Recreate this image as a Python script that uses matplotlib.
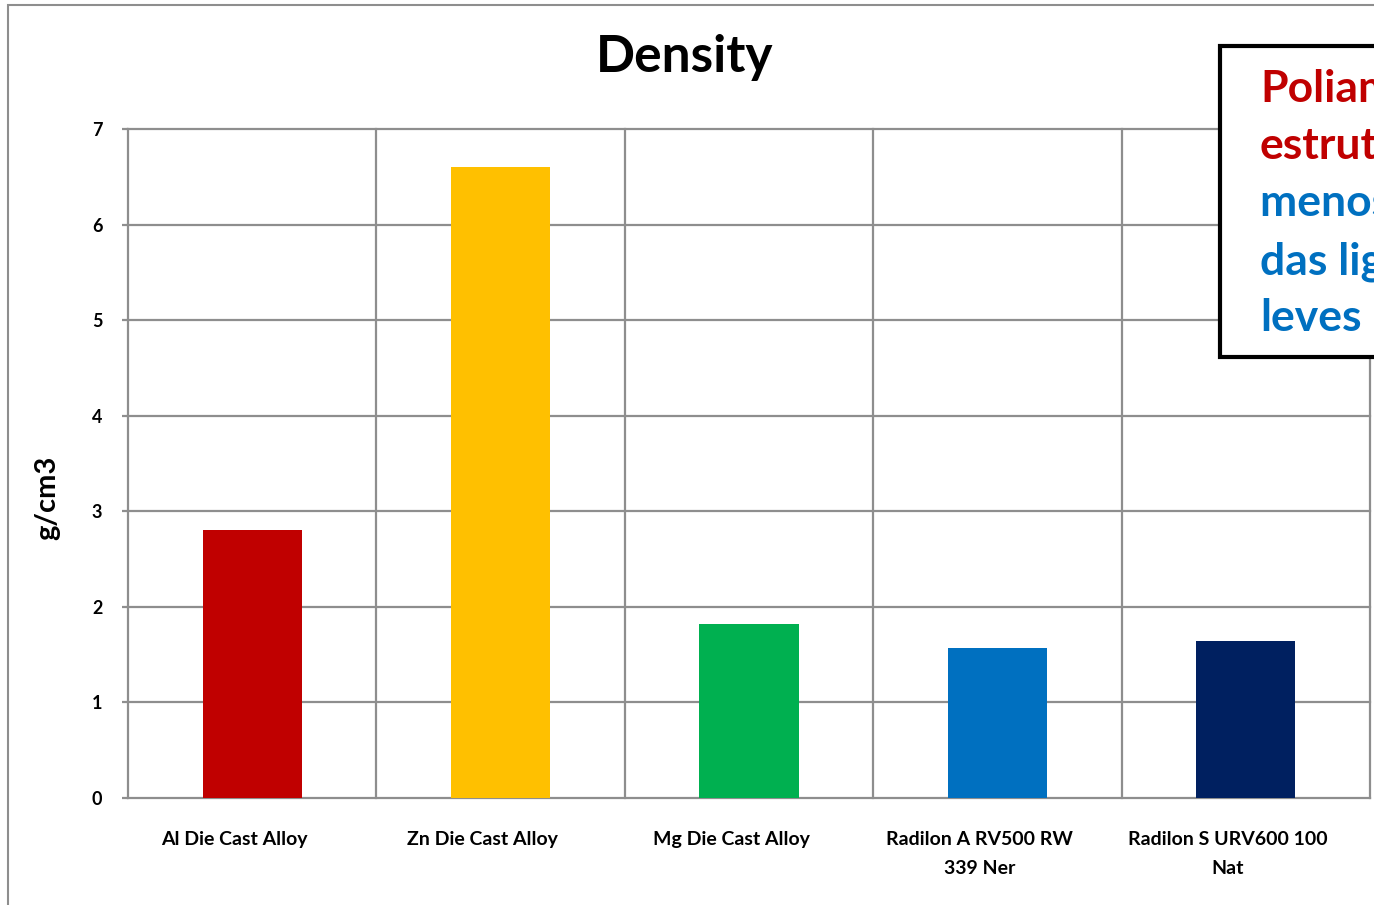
import matplotlib
matplotlib.use("Agg")
import matplotlib.pyplot as plt
from matplotlib.patches import Rectangle
from matplotlib.transforms import ScaledTranslation

plt.rcParams["font.family"] = ["Lato", "DejaVu Sans"]
plt.rcParams["font.weight"] = "bold"

# densidades (g/cm3)
materials = [
    "Al Die Cast Alloy",
    "Zn Die Cast Alloy",
    "Mg Die Cast Alloy",
    "Radilon A RV500 RW\n339 Ner",
    "Radilon S URV600 100\nNat",
]
density = [2.80, 6.60, 1.82, 1.57, 1.64]
bar_colors = ["#C00000", "#FFC000", "#00B050", "#0070C0", "#002060"]
y_ticks = [0, 1, 2, 3, 4, 5, 6, 7]

note_lines = ["Poliamidas", "estruturais", "menos densas", "das ligas", "leves"]
note_colors = ["#C00000", "#C00000", "#0070C0", "#0070C0", "#0070C0"]

W, H = 1374, 905
GRID = "#8E8E8E"

fig = plt.figure(figsize=(W / 100, H / 100), dpi=100)
ax = fig.add_axes([128 / W, 1 - 798 / H, (1370 - 128) / W, (798 - 129) / H])

x = list(range(len(materials)))
ax.bar(x, density, width=0.4, color=bar_colors, zorder=3)

ax.set_xlim(-0.5, len(materials) - 0.5)
ax.set_ylim(0, 7)

# grade horizontal e divisões verticais entre categorias
for v in y_ticks:
    ax.axhline(v, color=GRID, lw=1.6, zorder=1, clip_on=False)
for b in range(len(materials) + 1):
    ax.axvline(b - 0.5, color=GRID, lw=1.6, zorder=1, clip_on=False)

for s in ax.spines.values():
    s.set_visible(False)

ax.set_yticks(y_ticks)
ax.set_yticklabels([str(v) for v in y_ticks], fontsize=13, fontweight="bold")
ax.tick_params(axis="y", length=4.5, width=1.6, color=GRID, pad=14)

ax.set_xticks(x)
ax.set_xticklabels(materials, fontsize=14, fontweight="bold", linespacing=1.8)
ax.tick_params(axis="x", length=0, pad=24)
shift = ScaledTranslation(-18 / 100, 0, fig.dpi_scale_trans)
for lab in ax.get_xticklabels():
    lab.set_transform(lab.get_transform() + shift)

fig.text(47 / W, 1 - 498 / H, "g/cm3", rotation=90, ha="center", va="center",
         fontsize=21, fontweight="bold")
fig.text(685 / W, 1 - 72 / H, "Density", ha="center", va="baseline",
         fontsize=37, fontweight="bold")

# moldura externa do gráfico
fig.patches.append(Rectangle((8 / W, -0.1), 2.0, 1 - 5 / H + 0.1,
                             transform=fig.transFigure, fill=False,
                             edgecolor="#8E8E8E", lw=1.5, zorder=0.5))

# caixa de texto (cortada à direita)
fig.patches.append(Rectangle((1220 / W, 1 - 357 / H), 1.0, (357 - 46) / H,
                             transform=fig.transFigure, facecolor="white",
                             edgecolor="black", lw=3, zorder=5))
baselines = [102, 159, 216, 274, 331]
for line, col, yb in zip(note_lines, note_colors, baselines):
    fig.text(1260 / W, 1 - yb / H, line, ha="left", va="baseline",
             fontsize=32, fontweight="bold", color=col, zorder=6)

fig.savefig("out.png", dpi=100)
